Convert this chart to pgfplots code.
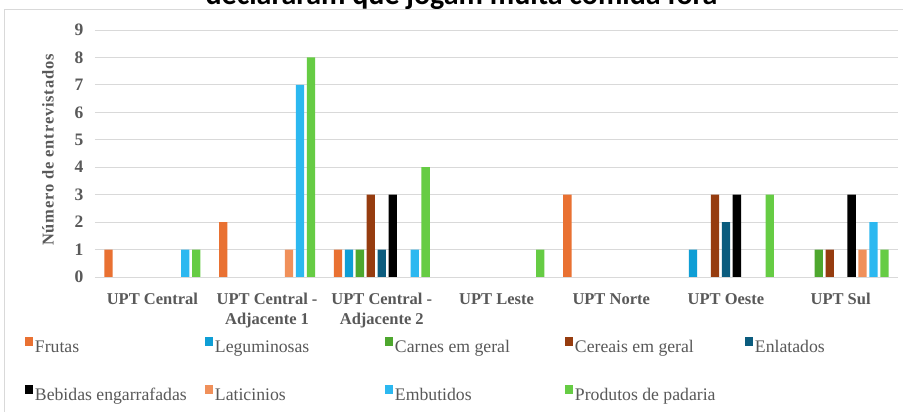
\documentclass[border=0pt]{standalone}
\usepackage{pgfplots}
\pgfplotsset{compat=1.18}
\usepackage{fontspec}
\setmainfont{Liberation Serif}
\newfontfamily\titlefont{Carlito}
\newfontfamily\spacedfont{Liberation Serif}[LetterSpace=5]
\definecolor{cFrutas}{HTML}{E97132}
\definecolor{cLegum}{HTML}{0F9ED5}
\definecolor{cCarnes}{HTML}{4EA72E}
\definecolor{cCereais}{HTML}{963C0F}
\definecolor{cEnlat}{HTML}{0B5C7E}
\definecolor{cBebidas}{HTML}{000000}
\definecolor{cLatic}{HTML}{F0905A}
\definecolor{cEmbut}{HTML}{2CB8F0}
\definecolor{cPadaria}{HTML}{66CC44}
\definecolor{txt}{HTML}{595959}
\definecolor{gridc}{HTML}{D9D9D9}
\pgfplotsset{sq/.style={fill=#1, draw=none, legend image code/.code={\fill[#1] (0pt,2pt) rectangle (8pt,11pt);}}}
\newcommand{\lt}[1]{\makebox[170pt][l]{#1}}
\begin{document}
\begin{tikzpicture}[x=1pt,y=1pt]
\useasboundingbox (0,0) rectangle (903,412);
\node[anchor=base, font=\titlefont\bfseries\fontsize{30}{36}\selectfont] at (461.5,407.5) {declararam que jogam muita comida fora};
\filldraw[fill=white, draw=gridc, line width=1pt] (4,-5) rectangle (910,402);
\begin{axis}[
  at={(95pt,135pt)}, anchor=south west,
  scale only axis, width=803pt, height=247pt,
  xmin=-0.5, xmax=6.5, ymin=0, ymax=9,
  ybar=2.66pt, bar width=8.3pt,
  axis line style={draw=none},
  major tick length=0pt,
  ymajorgrids, grid style={draw=gridc, line width=0.8pt},
  xtick={0,1,2,3,4,5,6},
  xticklabels={UPT Central, {UPT Central -\\Adjacente 1}, {UPT Central -\\Adjacente 2}, UPT Leste, UPT Norte, UPT Oeste, UPT Sul},
  xticklabel style={align=center, text=txt, font=\bfseries\fontsize{16.5}{19.5}\selectfont, yshift=-13pt},
  ytick={0,1,2,3,4,5,6,7,8,9},
  yticklabel style={text=txt, font=\bfseries\fontsize{17.5}{20}\selectfont, xshift=-8pt},
  /pgf/number format/assume math mode=true,
  ylabel={Número de entrevistados},
  every axis y label/.style={at={(axis description cs:-0.0585,0.514)}, rotate=90, anchor=center, text=txt, font=\spacedfont\bfseries\fontsize{16.5}{19}\selectfont},
  legend columns=5,
  legend cell align=left,
  legend style={draw=none, fill=none, inner sep=0pt, outer sep=0pt,
    at={(-0.0872,-0.243)}, anchor=north west,
    font=\fontsize{17.7}{20}\selectfont, text=txt,
    column sep=0pt, row sep=29pt,
    /tikz/every odd column/.style={column sep=2pt},
    nodes={inner sep=0pt, text height=12pt, text depth=4pt}},
]
\addplot[sq=cFrutas] coordinates {(0,1) (1,2) (2,1) (4,3)};
\addlegendentry{\lt{Frutas}}
\addplot[sq=cLegum] coordinates {(2,1) (5,1)};
\addlegendentry{\lt{Leguminosas}}
\addplot[sq=cCarnes] coordinates {(2,1) (6,1)};
\addlegendentry{\lt{Carnes em geral}}
\addplot[sq=cCereais] coordinates {(2,3) (5,3) (6,1)};
\addlegendentry{\lt{Cereais em geral}}
\addplot[sq=cEnlat] coordinates {(2,1) (5,2)};
\addlegendentry{\lt{Enlatados}}
\addplot[sq=cBebidas] coordinates {(2,3) (5,3) (6,3)};
\addlegendentry{\lt{Bebidas engarrafadas}}
\addplot[sq=cLatic] coordinates {(1,1) (6,1)};
\addlegendentry{\lt{Laticinios}}
\addplot[sq=cEmbut] coordinates {(0,1) (1,7) (2,1) (6,2)};
\addlegendentry{\lt{Embutidos}}
\addplot[sq=cPadaria] coordinates {(0,1) (1,8) (2,4) (3,1) (5,3) (6,1)};
\addlegendentry{\lt{Produtos de padaria}}
\end{axis}
\end{tikzpicture}
\end{document}
